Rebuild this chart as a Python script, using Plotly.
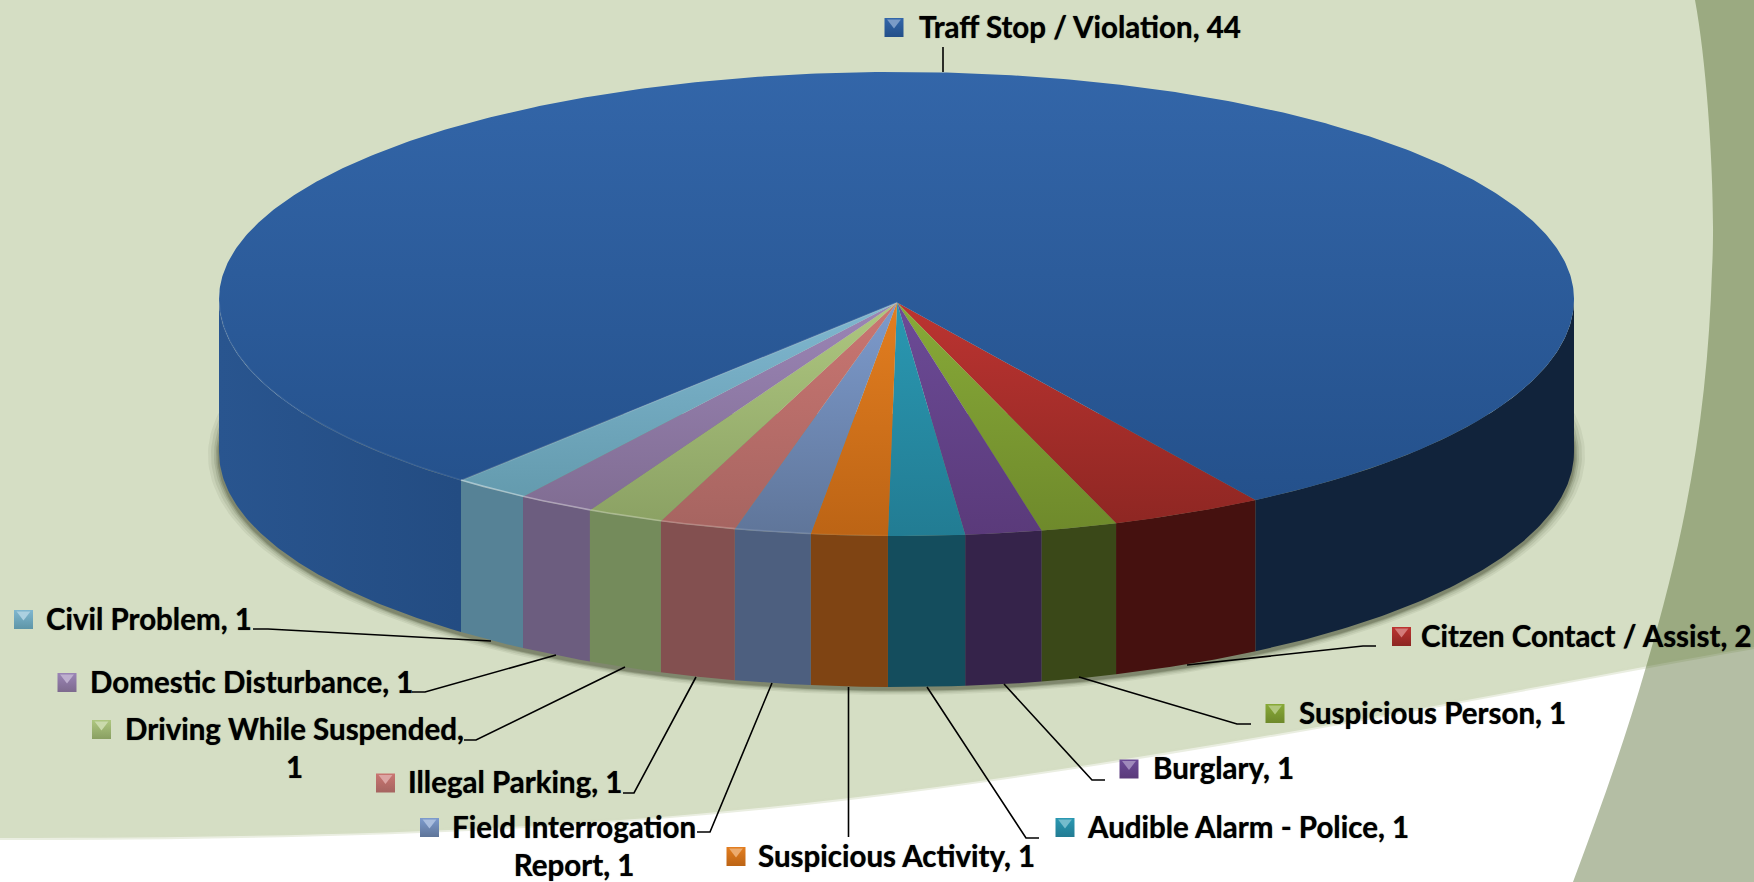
import numpy as np
import plotly.graph_objects as go

# ---- data (clockwise from the first slice) ----
categories = ["Citzen Contact / Assist", "Suspicious Person", "Burglary", "Audible Alarm - Police",
              "Suspicious Activity", "Field Interrogation<br>Report", "Illegal Parking",
              "Driving While Suspended,<br>", "Domestic Disturbance", "Civil Problem", "Traff Stop / Violation"]
values = [2, 1, 1, 1, 1, 1, 1, 1, 1, 1, 44]

# ---- styles ----
top_light = ["#BC3431", "#88AA38", "#6C4B97", "#2A98B2", "#E37E20", "#7D9BCD", "#CA7672", "#AEC780", "#9B85B6", "#80B7D0", "#3366A9"]
top_dark = ["#8C2622", "#6E892B", "#5A3A7A", "#227C93", "#BC6415", "#5F7599", "#A56460", "#899F62", "#7D6A8E", "#5E95A7", "#234F89"]
side_col = ["#45110F", "#3A4818", "#35234A", "#144D5D", "#7F4413", "#4D5F7F", "#835050", "#748B5B", "#6C5D7F", "#568296", "#234C82"]
SIDE_TRAFFIC_RIGHT = "#11233B"

# ---- pie geometry (page pixels) ----
FIRST_SLICE_DEG = 148.0       # clockwise from the back of the pie
APEX = (897.0, 302.5)
CX, RX = 896.5, 677.5
CY_TOP, RY_FRONT, RY_BACK = 299.0, 237.0, 227.0
CY_BOT, RY_BOT = 452.0, 235.0


def top_xy(a):
    """a: clockwise angle from the back of the pie, degrees."""
    r = np.radians(a)
    c = np.cos(r)
    return CX + RX * np.sin(r), CY_TOP - c * np.where(c > 0, RY_BACK, RY_FRONT)


def bot_xy(a):
    r = np.radians(a)
    return CX + RX * np.sin(r), CY_BOT - np.cos(r) * RY_BOT


share = 360.0 * np.array(values) / sum(values)
starts = FIRST_SLICE_DEG + np.concatenate([[0], np.cumsum(share)[:-1]])
ends = starts + share

fig = go.Figure()

# ---- drop shadow ----
for k, al in [(11, .07), (8, .09), (5, .12), (3, .16), (1.5, .2)]:
    aa = np.radians(np.linspace(80, 280, 200))
    fig.add_trace(go.Scatter(x=CX + (RX + k) * np.sin(aa),
                             y=CY_BOT + 3 - np.cos(aa) * (RY_BOT + k * .45),
                             mode="lines", fill="toself", line=dict(width=0),
                             fillcolor=f"rgba(45,50,25,{al})", hoverinfo="skip", showlegend=False))


def add_side(a0, a1, color, grad=None):
    aa = np.linspace(a0, a1, 90)
    xt, yt = top_xy(aa)
    xb, yb = bot_xy(aa)
    kw = dict(fillcolor=color)
    if grad:
        kw = dict(fillgradient=grad)
    fig.add_trace(go.Scatter(x=np.r_[xt, xb[::-1]], y=np.r_[yt, yb[::-1]], mode="lines", fill="toself",
                             line=dict(width=0), hoverinfo="skip", showlegend=False, **kw))


# ---- visible walls ----
for i, (s, e) in enumerate(zip(starts, ends)):
    if i == len(values) - 1:
        add_side(s, 270, None, dict(type="horizontal", start=CX - RX, stop=460,
                                    colorscale=[[0, "#29558F"], [1, side_col[i]]]))
        add_side(90, starts[0], SIDE_TRAFFIC_RIGHT)
    else:
        add_side(s, e, side_col[i])

# ---- top wedges ----
for i, (s, e) in enumerate(zip(starts, ends)):
    aa = np.linspace(s, e, max(8, int(share[i] * 2)))
    xt, yt = top_xy(aa)
    big = i == len(values) - 1
    fig.add_trace(go.Scatter(
        x=np.r_[APEX[0], xt, APEX[0]], y=np.r_[APEX[1], yt, APEX[1]], mode="lines", fill="toself",
        line=dict(width=0), hoverinfo="skip", showlegend=False,
        fillgradient=dict(type="vertical", start=68 if big else APEX[1], stop=536,
                          colorscale=[[0, top_light[i]], [1, top_dark[i]]])))

# ---- bevel highlight along the front rim ----
for i, (s, e) in enumerate(zip(starts, ends)):
    if i == len(values) - 1:
        e = 272
        al = .08
    else:
        al = max(0.0, min(.42, (((s + e) / 2 - 180) / 35) * .42))
    if al <= 0.01:
        continue
    aa = np.linspace(s, e, 60)
    xt, yt = top_xy(aa)
    fig.add_trace(go.Scatter(x=xt, y=yt - .5, mode="lines", line=dict(color=f"rgba(255,255,255,{al:.2f})", width=1.6),
                             hoverinfo="skip", showlegend=False))
x_edge, y_edge = top_xy(np.array(ends[-2]))
fig.add_trace(go.Scatter(x=[APEX[0], float(x_edge)], y=[APEX[1], float(y_edge)], mode="lines",
                         line=dict(color="rgba(255,255,255,.14)", width=1.5), hoverinfo="skip", showlegend=False))

# ---- leader lines, one per category ----
leader_x = [[1376, 1363, 1187], [1251, 1237, 1079], [1105, 1092, 1004], [1039, 1026, 927], [848.5, 848.5],
            [697, 710, 772], [623, 634, 696], [464, 476, 625], [412, 425, 556], [253, 268, 491], [943, 943]]
leader_y = [[646, 646, 665], [724, 724, 677], [780, 780, 684], [838, 838, 687], [837, 687],
            [832, 832, 683], [793, 793, 677], [740, 740, 667], [692, 692, 655], [629, 629, 641], [47, 72]]
for lx, ly in zip(leader_x, leader_y):
    fig.add_trace(go.Scatter(x=lx, y=ly, mode="lines", line=dict(color="#000000", width=1.6),
                             hoverinfo="skip", showlegend=False))

# ---- legend keys and labels ----
key_x = [1401.5, 1275, 1129, 1065, 736, 429.5, 385.5, 101.5, 67, 23.5, 894]
key_y = [636.5, 713.5, 769, 827.5, 856.5, 827.5, 783, 729.5, 682.5, 619.5, 27.5]
label_x = [1586.5, 1432, 1223, 1248, 896, 574, 515, 294.5, 251, 148.5, 1079.5]
label_y = [635, 712, 767, 826, 855, 845, 781, 747, 681, 618, 26]
fig.add_trace(go.Scatter(x=key_x, y=key_y, mode="markers", hoverinfo="skip", showlegend=False,
                         marker=dict(symbol="square", size=19, color=top_light, line=dict(width=0),
                                     gradient=dict(type="vertical", color=top_dark))))


def lighten(h, t):
    rgb = [int(h[j:j + 2], 16) for j in (1, 3, 5)]
    return "rgb(" + ",".join(str(int(c + (255 - c) * t)) for c in rgb) + ")"


fig.add_trace(go.Scatter(x=key_x, y=[v - 5 for v in key_y], mode="markers", hoverinfo="skip", showlegend=False,
                         marker=dict(symbol="triangle-down", size=12, color=[lighten(c, .35) for c in top_light],
                                     line=dict(width=0))))

for c, v, x, y in zip(categories, values, label_x, label_y):
    txt = f"{c}{v}" if c.endswith("<br>") else f"{c}, {v}"
    fig.add_annotation(x=x, y=y, text=txt, showarrow=False, xanchor="center", yanchor="middle", align="center",
                       font=dict(family="Lato", size=29.5, color="#000000", weight="bold",
                                 shadow="0 0 1px rgba(0,0,0,.7)"))

# ---- page background: pale green sweep and darker strip on the right ----
fig.update_layout(
    width=1754, height=882, margin=dict(l=0, r=0, t=0, b=0), paper_bgcolor="#FFFFFF", plot_bgcolor="rgba(0,0,0,0)",
    showlegend=False,
    xaxis=dict(range=[0, 1754], visible=False, fixedrange=True),
    yaxis=dict(range=[882, 0], visible=False, fixedrange=True),
    shapes=[
        dict(type="path", layer="below", xref="x", yref="y", fillcolor="#D5DEC4",
             line=dict(color="rgba(213,222,196,.5)", width=4),
             path="M 0 0 L 1754 0 L 1754 647 C 1500 692, 1200 755, 850 798 C 600 828, 350 838, 0 838 Z"),
        dict(type="path", layer="below", xref="x", yref="y", fillcolor="rgba(70,95,30,.405)", line=dict(width=0),
             path="M 1695 0 C 1708 70, 1716 200, 1712 270 C 1708 400, 1690 520, 1646 667 C 1625 740, 1600 810, 1573 882 L 1754 882 L 1754 0 Z"),
    ],
)
fig.write_html("out.html", config={"displayModeBar": False},
               post_script="document.body.style.margin='0';document.body.style.fontVariantLigatures='none';"
                           "document.documentElement.style.overflow='hidden';")
